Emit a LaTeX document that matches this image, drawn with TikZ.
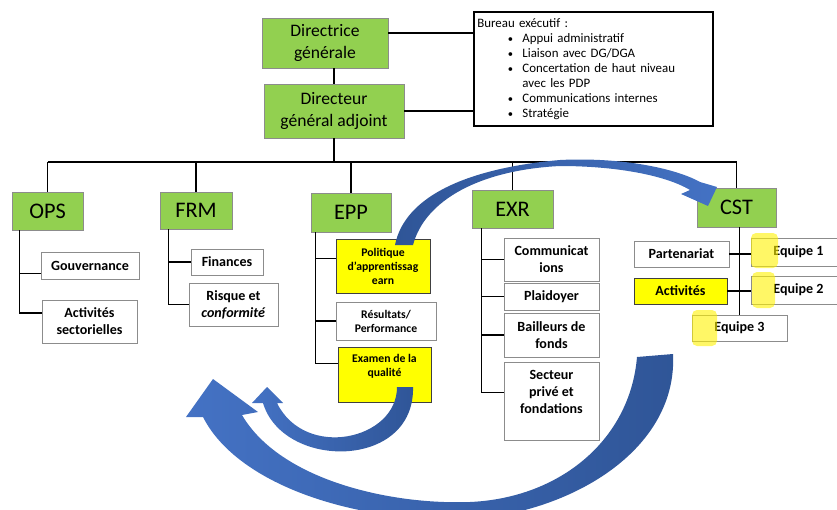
\documentclass[tikz,border=0pt]{standalone}
\usepackage{fontspec}
\setmainfont{Carlito}
\definecolor{vert}{HTML}{92D050}
\definecolor{jaune}{HTML}{FFFF00}
\definecolor{bleu}{HTML}{4472C4}
\definecolor{bleufonce}{HTML}{2F5597}
\definecolor{grisbord}{HTML}{8C8C8C}
\newcommand{\puce}{\hspace*{26pt}\makebox[12.5pt][l]{\small•}}
\begin{document}
\begin{tikzpicture}[x=0.03cm, y=-0.03cm,
		direction/.style={draw=grisbord, thick, fill=vert, align=center, font=\fontsize{15}{18}\selectfont},
		entete/.style={draw=grisbord, thick, fill=vert, font=\fontsize{19}{22}\selectfont},
		unite/.style={draw=grisbord, thick, fill=white, align=center, inner sep=1pt, font=\fontsize{12}{14.5}\selectfont\bfseries},
		priorite/.style={unite, fill=jaune, draw=black!75},
		petit/.style={font=\fontsize{10}{12}\selectfont\bfseries},
		lien/.style={line width=1.4pt},
		surligne/.style={fill=yellow, opacity=0.6, rounded corners=0.15cm}]
	\useasboundingbox (0,0) rectangle (837,510);

	% direction
	\node[direction, minimum width=3.78cm, minimum height=1.5cm] (dg) at (325,43) {Directrice\\générale};
	\node[direction, minimum width=4.2cm, minimum height=1.62cm] (dga) at (334,111) {Directeur\\général adjoint};
	\node[draw, line width=2pt, minimum width=7.17cm, minimum height=3.42cm, text width=6.97cm,
		inner xsep=0.1cm, align=left, font=\fontsize{11}{12.8}\selectfont] (bureau) at (593.5,69)
		{Bureau exécutif :\\
		\puce Appui administratif\\
		\puce Liaison avec DG/DGA\\
		\puce Concertation de haut niveau\\
		\hspace*{38.5pt}avec les PDP\\
		\puce Communications internes\\
		\puce Stratégie};
	\draw[lien] (dga.north) -- (dga.north |- dg.south);
	\draw[lien] (dg.9) -- (dg.9 -| bureau.west);
	\draw[lien] (dga.east) -- (dga.east -| bureau.west);

	% departements
	\node[entete, minimum width=2.13cm, minimum height=1.14cm] (ops) at (47.5,211) {OPS};
	\node[entete, minimum width=2.16cm, minimum height=1.11cm] (frm) at (196,210.5) {FRM};
	\node[entete, minimum width=2.4cm, minimum height=1.17cm] (epp) at (351,212.5) {EPP};
	\node[entete, minimum width=2.43cm, minimum height=1.14cm] (exr) at (512.5,209) {EXR};
	\node[entete, minimum width=2.37cm, minimum height=1.17cm] (cst) at (736.5,207.5) {CST};
	\coordinate (bus) at (48,162);
	\draw[lien] (ops.north |- bus) -- (cst.north |- bus);
	\draw[lien] (dga.south) -- (dga.south |- bus);
	\foreach \d in {ops,frm,epp,exr,cst}
		\draw[lien] (\d.north) -- (\d.north |- bus);

	% OPS
	\node[unite, minimum width=2.94cm, minimum height=0.81cm] (gouv) at (90,265.5) {Gouvernance};
	\node[unite, minimum width=2.85cm, minimum height=1.29cm] (actsec) at (89.5,321.5) {Activités\\sectorielles};
	\draw[lien] ([xshift=0.24cm]ops.south west) coordinate (opsb) |- (actsec.170);
	\draw[lien] (gouv.189) -- (gouv.189 -| opsb);

	% FRM
	\node[unite, minimum width=2.16cm, minimum height=0.78cm] (fin) at (227,262) {Finances};
	\node[unite, minimum width=2.67cm, minimum height=1.29cm] (risque) at (233.5,304.5) {Risque et\\\textit{conformité}};
	\draw[lien] ([xshift=0.27cm]frm.south west) coordinate (frmb) |- (risque.west);
	\draw[lien] (fin.west) -- (fin.west -| frmb);

	% EPP
	\node[priorite, petit, minimum width=2.82cm, minimum height=1.62cm] (polit) at (383,266) {Politique\\d’apprentissag\\earn};
	\node[unite, petit, minimum width=3cm, minimum height=1.14cm] (result) at (386,321) {Résultats/\\Performance};
	\node[priorite, petit, minimum width=2.79cm, minimum height=1.65cm] (examen) at (384.5,374.5) {Examen de la\\qualité\\[4pt]};
	\draw[lien] ([xshift=0.15cm]epp.south west) coordinate (eppb) |- (examen.167);
	\draw[lien] (polit.171) -- (polit.171 -| eppb);
	\draw[lien] (result.west) -- (result.west -| eppb);

	% EXR
	\node[unite, minimum width=2.85cm, minimum height=1.29cm] (comm) at (551.5,259.5) {Communicat\\ions};
	\node[unite, minimum width=2.85cm, minimum height=0.81cm] (plaid) at (551.5,296.5) {Plaidoyer};
	\node[unite, minimum width=2.85cm, minimum height=1.32cm] (baill) at (551.5,335) {Bailleurs de\\fonds};
	\node[unite, minimum width=2.85cm, minimum height=2.34cm] (sect) at (551.5,401) {Secteur\\privé et\\fondations\\[1pt]};
	\draw[lien] ([xshift=0.3cm]exr.south west) coordinate (exrb) |- (sect.170);
	\foreach \u in {comm,plaid,baill}
		\draw[lien] (\u.west) -- (\u.west -| exrb);

	% CST
	\node[unite, minimum width=2.85cm, minimum height=0.78cm] (part) at (681.5,254) {Partenariat};
	\node[priorite, minimum width=2.79cm, minimum height=0.78cm] (act) at (680.5,291) {Activités};
	\node[unite, minimum width=2.85cm, minimum height=0.84cm] (eq1) at (798.5,252) {Equipe 1};
	\node[unite, minimum width=2.85cm, minimum height=0.84cm] (eq2) at (798.5,290) {Equipe 2};
	\node[unite, minimum width=2.85cm, minimum height=0.78cm] (eq3) at (739.5,328) {Equipe 3};
	\draw[lien] (eq3.north |- cst.south) -- (eq3.north);
	\draw[lien] (part.east) -- (eq1.west |- part.east);
	\draw[lien] (act.east) -- (eq2.west |- act.east);
	\fill[surligne] (751,233) rectangle (778,268);
	\fill[surligne] (752,272) rectangle (775,308);
	\fill[surligne] (692,310) rectangle (717,346);

	% fleches
	\shade[left color=bleufonce, right color=bleu] (395,245) .. controls (405,195) and (470,168) .. (560,160)
		.. controls (620,157) and (675,168) .. (700,182) -- (717,187) -- (708,206) -- (681,194) -- (690,190)
		.. controls (665,175) and (615,166) .. (560,166) .. controls (480,170) and (425,200) .. (413,245) -- cycle;
	\shade[left color=bleu, right color=bleufonce] (637,357) .. controls (630,440) and (560,498) .. (470,502)
		.. controls (390,505) and (280,480) .. (242,415) -- (258,412) -- (213,379) -- (186,417) -- (203,417)
		.. controls (235,480) and (340,520) .. (460,520) .. controls (570,515) and (678,450) .. (673,354) -- cycle;
	\shade[left color=bleu, right color=bleufonce] (397,387) .. controls (397,440) and (305,460) .. (277,403)
		-- (283,403) -- (267,387) -- (252,403) -- (263,403)
		.. controls (283,470) and (415,470) .. (413,387) -- cycle;
\end{tikzpicture}
\end{document}
